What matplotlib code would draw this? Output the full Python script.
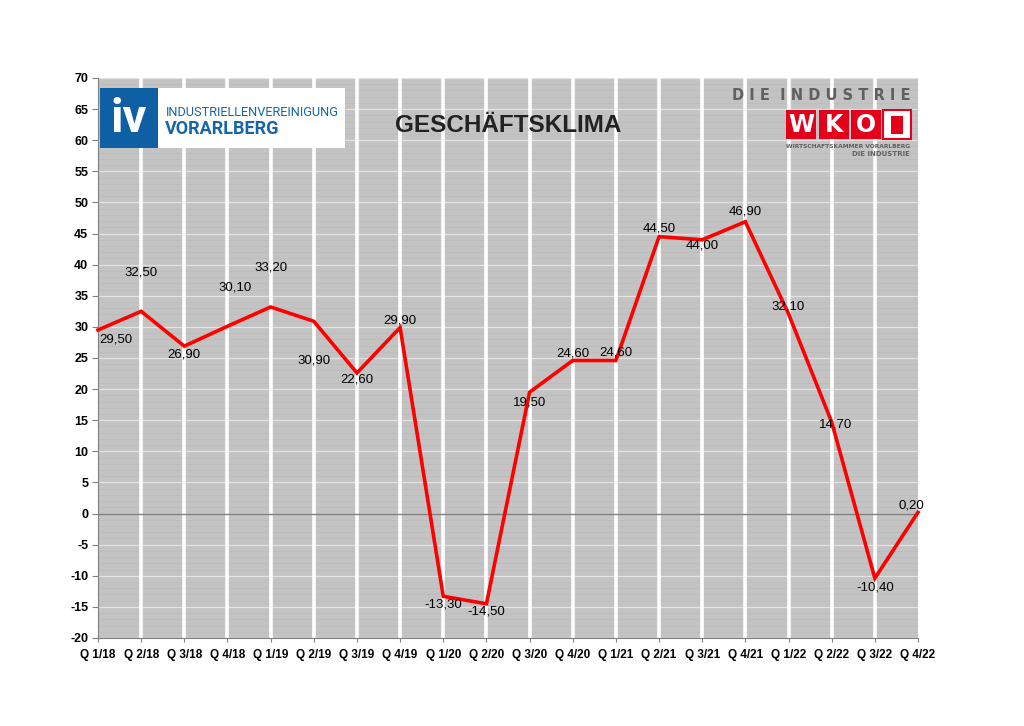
import matplotlib
matplotlib.use("Agg")
import matplotlib.pyplot as plt
from matplotlib.patches import Rectangle

categories = ["Q 1/18", "Q 2/18", "Q 3/18", "Q 4/18", "Q 1/19", "Q 2/19", "Q 3/19", "Q 4/19",
              "Q 1/20", "Q 2/20", "Q 3/20", "Q 4/20", "Q 1/21", "Q 2/21", "Q 3/21", "Q 4/21",
              "Q 1/22", "Q 2/22", "Q 3/22", "Q 4/22"]
values = [29.5, 32.5, 26.9, 30.1, 33.2, 30.9, 22.6, 29.9, -13.3, -14.5,
          19.5, 24.6, 24.6, 44.5, 44.0, 46.9, 32.1, 14.7, -10.4, 0.2]
yticks = list(range(-20, 75, 5))

# label offsets in pixels (dx, dy; dy positive = downwards)
label_offsets = [(18, 10), (0, -39), (0, 8), (8, -39), (0, -39), (0, 39), (0, 7), (0, -7),
                 (0, 8), (0, 8), (0, 10), (0, -7), (0, -8), (0, -8), (0, 6), (0, -10),
                 (0, -7), (4, 2), (0, 9), (-7, -7)]

W, H = 1024, 726
fig = plt.figure(figsize=(W / 100, H / 100), dpi=100)
fig.patch.set_facecolor("white")

def fx(x):
    return x / W

def fy(y):
    return 1 - y / H

L, R, T, B = 98, 918, 78, 638
ax = fig.add_axes([fx(L), fy(B), (R - L) / W, (B - T) / H])
n = len(categories)
ax.set_xlim(0, n - 1)
ax.set_ylim(-20, 70)
ax.set_facecolor("#c3c3c3")

# stripe texture and grid
for v in range(-20, 71):
    if v % 5 == 0:
        ax.axhline(v, color="#e2e2e2", lw=0.9, zorder=1)
    else:
        ax.axhline(v, color="#bbbbbb", lw=0.5, zorder=1)
for i in range(1, n - 1):
    ax.axvline(i, color="white", lw=2.6, zorder=2)
ax.axhline(0, color="#808080", lw=1.0, zorder=3)

xs = list(range(n))
ax.plot(xs, values, color="#ff0000", lw=2.6, zorder=5, solid_joinstyle="miter", clip_on=False)

for x, v, (dx, dy) in zip(xs, values, label_offsets):
    ax.annotate(f"{v:.2f}".replace(".", ","), (x, v), xytext=(dx * 0.72, -dy * 0.72),
                textcoords="offset points", ha="center", va="center", fontsize=9.5,
                family="Liberation Sans", color="black", zorder=6)

ax.set_yticks(yticks)
ax.set_yticklabels([str(t) for t in yticks], fontsize=9, fontweight="bold", family="Liberation Sans")
ax.set_xticks(xs)
ax.set_xticklabels(categories, fontsize=8.5, fontweight="bold", family="Liberation Sans")
ax.tick_params(axis="y", length=4, color="#808080", pad=3)
ax.tick_params(axis="x", length=3, color="#808080", pad=5)
for s in ["top", "right"]:
    ax.spines[s].set_visible(False)
ax.spines["left"].set_color("#808080")
ax.spines["bottom"].set_color("#808080")
ax.spines["left"].set_zorder(4)

# Title
fig.text(fx(508), fy(126), "GESCHÄFTSKLIMA", fontsize=17.5, fontweight="bold",
         color="#222222", family="Liberation Sans", ha="center", va="center")

# IV logo
fig.patches.append(Rectangle((fx(100), fy(148)), fx(245), 60 / H, transform=fig.transFigure,
                             facecolor="white", edgecolor="none", zorder=10))
fig.patches.append(Rectangle((fx(100), fy(148)), fx(58), 60 / H, transform=fig.transFigure,
                             facecolor="#0e5fa3", edgecolor="none", zorder=11))
fig.text(fx(129), fy(119), "iv", fontsize=34, fontweight="bold", color="white",
         family="Roboto", ha="center", va="center", zorder=12)
fig.text(fx(166), fy(112), "INDUSTRIELLENVEREINIGUNG", fontsize=9.2, color="#1565a8",
         family="Roboto", ha="left", va="center", zorder=12)
fig.text(fx(165), fy(129), "VORARLBERG", fontsize=13, fontweight="bold", color="#1565a8",
         family="Roboto", ha="left", va="center", zorder=12)

# WKO logo
fig.text(fx(910), fy(95), "D I E  I N D U S T R I E", fontsize=10.5, fontweight="bold",
         color="#606060", family="DejaVu Sans", ha="right", va="center", zorder=12)
for x0, ch in [(786, "W"), (819, "K"), (851, "O")]:
    fig.patches.append(Rectangle((fx(x0), fy(139)), 30 / W, 29 / H, transform=fig.transFigure,
                                 facecolor="#e3001b", edgecolor="none", zorder=11))
    fig.text(fx(x0 + 15), fy(124.5), ch, fontsize=17, fontweight="bold", color="white",
             family="DejaVu Sans", ha="center", va="center", zorder=12)
fig.patches.append(Rectangle((fx(883), fy(139)), 28 / W, 29 / H, transform=fig.transFigure,
                             facecolor="white", edgecolor="#e3001b", lw=1.5, zorder=11))
fig.patches.append(Rectangle((fx(891), fy(134)), 12 / W, 18 / H, transform=fig.transFigure,
                             facecolor="#e3001b", edgecolor="none", zorder=12))
fig.text(fx(910), fy(146), "WIRTSCHAFTSKAMMER VORARLBERG", fontsize=4.3, fontweight="bold",
         color="#606060", family="DejaVu Sans", ha="right", va="center", zorder=12)
fig.text(fx(910), fy(154), "DIE INDUSTRIE", fontsize=5, fontweight="bold",
         color="#606060", family="DejaVu Sans", ha="right", va="center", zorder=12)

fig.savefig("out.png", dpi=100, facecolor="white")
